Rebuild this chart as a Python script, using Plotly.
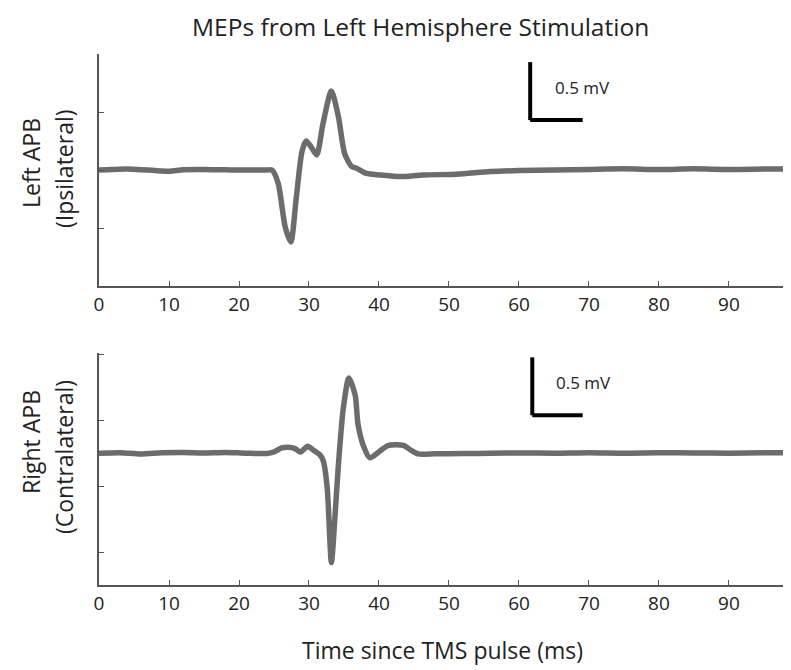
import plotly.graph_objects as go
from plotly.subplots import make_subplots

# ---- data (time in ms, amplitude in mV) ----
t_left = [0, 2, 4, 6, 8, 10, 12, 14, 16, 18, 20, 22, 24, 24.7, 25.6, 26.6, 27.4, 28.2, 29.0,
          29.6, 30.3, 31.1, 32.0, 33.2, 34.2, 35.1, 36.1, 36.8, 38.2, 40.2, 43.0, 46.3, 51.1,
          55.9, 60, 65, 70, 75, 80, 85, 90, 95, 99]
v_left = [0.0, 0.005, 0.008, 0.003, -0.005, -0.01, 0.002, 0.005, 0.003, 0.002, 0.0, 0.0, 0.0,
          0.0, -0.115, -0.49, -0.62, -0.23, 0.16, 0.25, 0.20, 0.13, 0.40, 0.68, 0.46, 0.14,
          0.03, 0.015, -0.03, -0.043, -0.057, -0.043, -0.036, -0.014, -0.005, 0.0, 0.005,
          0.01, 0.005, 0.01, 0.005, 0.008, 0.01]

t_right = [0, 3, 6, 9, 12, 15, 18, 21, 24, 25.0, 26.1, 27.0, 28.0, 28.8, 29.8, 30.7, 31.6,
           32.05, 32.6, 33.2, 33.7, 34.2, 34.9, 35.7, 36.6, 37.0, 37.8, 38.7, 40.1, 41.3,
           43.5, 44.4, 45.6, 48, 52, 56, 60, 65, 70, 75, 80, 85, 90, 95, 99]
v_right = [0.0, 0.004, -0.006, 0.003, 0.005, 0.002, 0.006, 0.0, -0.002, 0.01, 0.04, 0.045,
           0.035, 0.008, 0.053, 0.02, -0.015, -0.06, -0.26, -0.83, -0.49, -0.09, 0.34, 0.57,
           0.44, 0.22, 0.053, -0.035, 0.015, 0.058, 0.06, 0.028, -0.005, -0.005, -0.003,
           0.0, 0.002, 0.0, 0.004, 0.0, 0.003, 0.002, 0.0, 0.004, 0.002]

x_ticks = [0, 10, 20, 30, 40, 50, 60, 70, 80, 90]
x_range = [0, 98.86]
y_range_left = [-1.0, 1.0]
y_ticks_left = [-0.5, 0, 0.5, 1.0]
y_range_right = [-1.0, 0.76]
y_ticks_right = [-0.75, -0.25, 0.25, 0.75]

# scale bars: (x_vertical, x_end, y_bottom, y_top, label_x, label_y)
bar_left = (61.6, 69.1, 0.43, 0.93, 64.9, 0.707)
bar_right = (61.9, 69.1, 0.288, 0.727, 65.0, 0.538)
bar_label = "0.5 mV"

title = "MEPs from Left Hemisphere Stimulation"
xlabel = "Time since TMS pulse (ms)"
ylabel_top = ["Left APB", "(Ipsilateral)"]
ylabel_bot = ["Right APB", "(Contralateral)"]

FONT = "Open Sans"
TRACE = "#6c6c6c"
AX = "#555555"
TXT = "#222222"

# page is drawn with an 8px body margin
W, H = 783, 662
L, R, T, B = 91, 0, 46, 85
PLOT_L, PLOT_W, PLOT_BOT, PLOT_H = 99, 692, 585, 531   # page coordinates


def fy(p):
    return (PLOT_BOT - p) / PLOT_H


def fx(p):
    return (p - PLOT_L) / PLOT_W


fig = make_subplots(rows=2, cols=1, shared_xaxes=False, vertical_spacing=0.05)
for t, v, r in [(t_left, v_left, 1), (t_right, v_right, 2)]:
    fig.add_trace(go.Scatter(x=t, y=v, mode="lines",
                             line=dict(color=TRACE, width=5.5, shape="spline", smoothing=0.7),
                             hoverinfo="skip", showlegend=False), row=r, col=1)

axcommon = dict(showline=True, linecolor=AX, linewidth=1.5, ticks="inside", ticklen=5, tickwidth=1.2,
                tickcolor=AX, showgrid=False, zeroline=False, mirror=False)
fig.update_xaxes(**axcommon, range=x_range, tickvals=x_ticks, tickfont=dict(family=FONT, size=19, color=TXT))
fig.update_yaxes(**axcommon, showticklabels=False)
fig.update_layout(
    xaxis=dict(domain=[0, 1]), xaxis2=dict(domain=[0, 1]),
    yaxis=dict(domain=[fy(286), 1.0], range=y_range_left, tickvals=y_ticks_left),
    yaxis2=dict(domain=[0, fy(353)], range=y_range_right, tickvals=y_ticks_right),
)

for (x0, x1, y0, y1, lx, ly), xr, yr in [(bar_left, "x", "y"), (bar_right, "x2", "y2")]:
    fig.add_shape(type="line", x0=x0, x1=x0, y0=y0, y1=y1, xref=xr, yref=yr, line=dict(color="black", width=4))
    fig.add_shape(type="line", x0=x0, x1=x1, y0=y0, y1=y0, xref=xr, yref=yr, line=dict(color="black", width=4))
    fig.add_annotation(x=lx, y=ly, xref=xr, yref=yr, text=bar_label, showarrow=False, xanchor="left",
                       yanchor="middle", font=dict(family=FONT, size=17, color=TXT))

fig.add_annotation(x=fx(420), y=fy(8.5), xref="paper", yref="paper", text=title, showarrow=False,
                   xanchor="center", yanchor="top", borderpad=0, font=dict(family=FONT, size=24.5, color=TXT))
fig.add_annotation(x=fx(442), y=fy(650), xref="paper", yref="paper", text=xlabel, showarrow=False,
                   xanchor="center", yanchor="middle", font=dict(family=FONT, size=23, color=TXT))

for (txt, px, py) in [(ylabel_top[0], 31, 163), (ylabel_top[1], 64, 169),
                      (ylabel_bot[0], 31, 442), (ylabel_bot[1], 64, 457)]:
    fig.add_annotation(x=fx(px), y=fy(py), xref="paper", yref="paper", text=txt, showarrow=False,
                       textangle=-90, xanchor="center", yanchor="middle",
                       font=dict(family=FONT, size=23, color=TXT))

fig.update_layout(width=W, height=H, margin=dict(l=L, r=R, t=T, b=B), plot_bgcolor="white",
                  paper_bgcolor="white", font=dict(family=FONT))
fig.write_html("out.html")
